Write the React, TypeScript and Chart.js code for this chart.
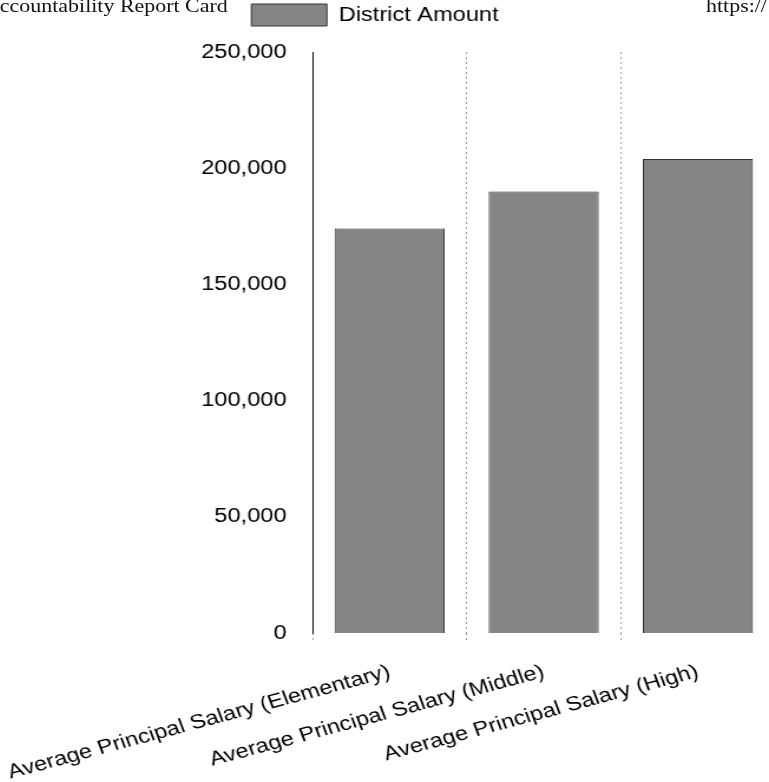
import { useEffect, useRef } from "react";
import { Chart, registerables } from "chart.js";

Chart.register(...registerables);

// Salary categories and the district's amounts (USD)
const categories = [
  "Average Principal Salary (Elementary)",
  "Average Principal Salary (Middle)",
  "Average Principal Salary (High)",
];
const seriesLabel = "District Amount";
const districtAmount = [174000, 190000, 204000];
const yTicks = [0, 50000, 100000, 150000, 200000, 250000];

const pageHeader = "Accountability Report Card";
const pageUrl = "https://";

const FONT = "'Liberation Sans', Arial, Helvetica, sans-serif";
const SERIF = "'Liberation Serif', 'Times New Roman', serif";

// the printed page is slightly widened horizontally
const STRETCH = 1.18;
const CANVAS_W = 678;
const CANVAS_H = 782;

export default function App() {
  const canvasRef = useRef<HTMLCanvasElement | null>(null);

  useEffect(() => {
    const canvas = canvasRef.current;
    if (!canvas) return;

    const chart = new Chart(canvas, {
      type: "bar",
      data: {
        labels: categories,
        datasets: [
          {
            label: seriesLabel,
            data: districtAmount,
            backgroundColor: "#858585",
            borderColor: "#333",
            borderWidth: 1,
            categoryPercentage: 1,
            barPercentage: 0.714,
          },
        ],
      },
      options: {
        responsive: false,
        animation: false,
        layout: { padding: 0 },
        plugins: {
          legend: {
            display: true,
            position: "top",
            labels: {
              boxWidth: 64,
              boxHeight: 22,
              padding: 4,
              color: "#000",
              font: { family: FONT, size: 20 },
            },
          },
          // empty spacer between the legend and the plot area
          title: {
            display: true,
            text: "",
            position: "top",
            weight: 500,
            font: { size: 10, lineHeight: 1 },
            padding: { top: 6, bottom: 0 },
          },
          tooltip: { enabled: false },
        },
        scales: {
          x: {
            grid: {
              display: true,
              offset: true,
              color: "#9a9a9a",
              lineWidth: 1,
              tickLength: 8,
              drawTicks: true,
              tickBorderDash: [2, 3],
            },
            border: { display: false, dash: [2, 3] },
            ticks: {
              autoSkip: false,
              minRotation: 17.5,
              maxRotation: 17.5,
              padding: 19,
              color: "#000",
              font: { family: FONT, size: 20 },
            },
            afterFit: (scale: any) => {
              scale.height = 149;
              scale.paddingLeft = 0;
              scale.paddingRight = 0;
            },
          },
          y: {
            min: yTicks[0],
            max: yTicks[yTicks.length - 1],
            grid: { display: false },
            border: { display: true, color: "#000", width: 1 },
            ticks: {
              stepSize: yTicks[1] - yTicks[0],
              padding: 14,
              color: "#000",
              font: { family: FONT, size: 20 },
            },
            afterFit: (scale: any) => {
              scale.width = 286;
            },
          },
        },
      },
    });

    return () => chart.destroy();
  }, []);

  const headerStyle = {
    position: "absolute" as const,
    top: -3,
    fontFamily: SERIF,
    fontSize: 18.6,
    lineHeight: "18.6px",
    color: "#111",
    whiteSpace: "nowrap" as const,
    transform: `scaleX(${STRETCH})`,
    transformOrigin: "0 0",
  };

  return (
    <div
      style={{
        position: "fixed",
        left: 0,
        top: 0,
        width: 769,
        height: 782,
        overflow: "hidden",
        background: "#fff",
      }}
    >
      <canvas
        ref={canvasRef}
        width={CANVAS_W}
        height={CANVAS_H}
        style={{
          position: "absolute",
          left: -25,
          top: 0,
          width: `${Math.round(CANVAS_W * STRETCH)}px`,
          height: `${CANVAS_H}px`,
        }}
      />
      <span style={{ ...headerStyle, left: -16 }}>{pageHeader}</span>
      <span style={{ ...headerStyle, left: 706 }}>{pageUrl}</span>
    </div>
  );
}
